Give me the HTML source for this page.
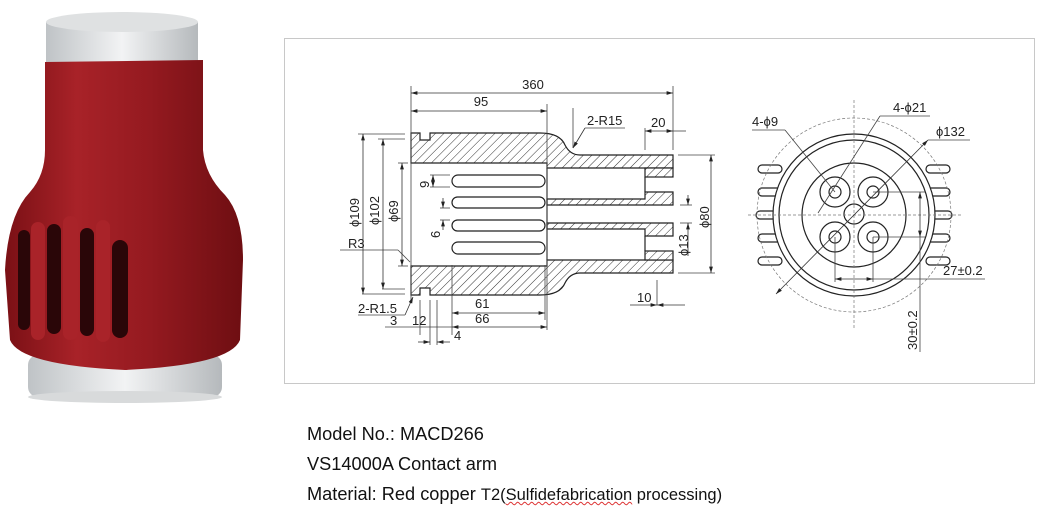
<!DOCTYPE html>
<html><head><meta charset="utf-8"><style>
html,body{margin:0;padding:0;background:#fff;}
body{width:1053px;height:519px;position:relative;overflow:hidden;font-family:"Liberation Sans",Arial,sans-serif;}
svg{position:absolute;left:0;top:0;}
.t{position:absolute;left:307px;font-size:18.2px;color:#111;white-space:nowrap;}
.s{font-size:16.5px;}
.w{text-decoration:underline wavy #d33;text-decoration-thickness:1px;}
</style></head><body>
<svg width="1053" height="519" viewBox="0 0 1053 519" font-family="Liberation Sans, Arial, sans-serif">
<defs>
<pattern id="h" width="6" height="6" patternUnits="userSpaceOnUse" patternTransform="rotate(45)">
<rect width="6" height="6" fill="#fff"/><line x1="0" y1="0" x2="0" y2="6" stroke="#333" stroke-width="1"/></pattern>
<linearGradient id="red" x1="0" x2="1"><stop offset="0" stop-color="#7a1015"/><stop offset=".3" stop-color="#a82228"/><stop offset=".6" stop-color="#951a20"/><stop offset="1" stop-color="#6e0e12"/></linearGradient>
<linearGradient id="al" x1="0" x2="1"><stop offset="0" stop-color="#bfc3c6"/><stop offset=".5" stop-color="#f2f3f4"/><stop offset="1" stop-color="#b5b9bc"/></linearGradient>
<marker id="a" viewBox="0 0 10 6" refX="10" refY="3" markerWidth="8" markerHeight="5" orient="auto-start-reverse"><path d="M0 0 L10 3 L0 6 Z" fill="#222"/></marker>
</defs>
<!-- photo -->
<rect x="28" y="355" width="194" height="42" rx="10" fill="url(#al)"/>
<ellipse cx="125" cy="397" rx="97" ry="6" fill="#d8dadb"/>
<rect x="46" y="22" width="152" height="45" fill="url(#al)"/>
<ellipse cx="122" cy="22" rx="76" ry="10" fill="#dfe1e2"/>
<path d="M45 62 L203 60 L203 150 Q205 175 225 195 Q243 215 243 260 L240 340 Q230 365 125 370 Q20 365 10 340 L5 270 Q8 215 30 192 Q45 175 45 150 Z" fill="url(#red)"/>
<g fill="#2a0608"><rect x="18" y="230" width="12" height="100" rx="6"/><rect x="47" y="224" width="14" height="110" rx="7"/><rect x="80" y="228" width="14" height="108" rx="7"/><rect x="112" y="240" width="16" height="98" rx="8"/></g>
<g fill="#a92329"><rect x="31" y="222" width="14" height="118" rx="7"/><rect x="63" y="216" width="15" height="124" rx="7"/><rect x="96" y="220" width="14" height="122" rx="7"/></g>
<!-- frame -->
<rect x="284.5" y="38.5" width="750" height="345" fill="none" stroke="#c8c8c8"/>
<!-- left drawing -->
<g stroke="#222" stroke-width="1.2">
<path d="M411 133 L420 133 L420 140 L430 140 L430 133 L540 133 Q560 133 565 145 Q570 155 580 155 L673 155 L673 168 L547 168 L547 163 L411 163 Z" fill="url(#h)"/>
<path d="M411 295 L420 295 L420 288 L430 288 L430 295 L540 295 Q560 295 565 283 Q570 273 580 273 L673 273 L673 260 L547 260 L547 266 L411 266 Z" fill="url(#h)"/>
<rect x="645" y="168" width="28" height="9" fill="url(#h)"/>
<rect x="645" y="251" width="28" height="9" fill="url(#h)"/>
<path d="M547 199 L645 199 L645 192 L673 192 L673 205 L547 205 Z" fill="url(#h)"/>
<path d="M547 229 L645 229 L645 236 L673 236 L673 223 L547 223 Z" fill="url(#h)"/>
<line x1="645" y1="177" x2="645" y2="192" fill="none"/><line x1="645" y1="236" x2="645" y2="251"/>
<line x1="547" y1="168" x2="547" y2="260"/>
<rect x="452" y="175" width="93" height="12" rx="6" fill="#fff"/>
<rect x="452" y="197" width="93" height="11" rx="5.5" fill="#fff"/>
<rect x="452" y="220" width="93" height="11" rx="5.5" fill="#fff"/>
<rect x="452" y="242" width="93" height="12" rx="6" fill="#fff"/>
</g>
<g stroke="#444" stroke-width=".8" fill="none">
<line x1="411" y1="86" x2="411" y2="300"/><line x1="673" y1="86" x2="673" y2="150"/><line x1="547" y1="104" x2="547" y2="330"/>
<line x1="358" y1="134" x2="405" y2="134"/><line x1="378" y1="139" x2="405" y2="139"/><line x1="398" y1="163" x2="408" y2="163"/><line x1="398" y1="266" x2="408" y2="266"/>
<line x1="362" y1="294" x2="405" y2="294"/><line x1="382" y1="289" x2="405" y2="289"/>
<line x1="340" y1="250" x2="398" y2="250"/><line x1="398" y1="250" x2="410" y2="262"/>
<line x1="678" y1="155" x2="715" y2="155"/><line x1="678" y1="273" x2="715" y2="273"/>
<line x1="680" y1="205" x2="692" y2="205"/><line x1="680" y1="223" x2="692" y2="223"/>
<line x1="645" y1="128" x2="645" y2="150"/><line x1="673" y1="131" x2="686" y2="131"/>
<line x1="573" y1="108" x2="573" y2="148"/><line x1="585" y1="128" x2="625" y2="128"/>
<line x1="657" y1="280" x2="657" y2="305"/>
<line x1="420" y1="300" x2="420" y2="335"/><line x1="430" y1="300" x2="430" y2="345"/><line x1="437" y1="300" x2="437" y2="345"/><line x1="452" y1="265" x2="452" y2="335"/><line x1="545" y1="265" x2="545" y2="320"/>
<line x1="385" y1="327" x2="452" y2="327"/>
<line x1="358" y1="315" x2="405" y2="315"/>
<line x1="430" y1="175" x2="450" y2="175"/><line x1="430" y1="187" x2="450" y2="187"/>
<line x1="440" y1="208" x2="450" y2="208"/><line x1="440" y1="220" x2="450" y2="220"/>
</g>
<g stroke="#333" stroke-width=".8" fill="none" marker-start="url(#a)" marker-end="url(#a)">
<line x1="411" y1="93" x2="673" y2="93"/><line x1="411" y1="111" x2="547" y2="111"/>
<line x1="363" y1="134" x2="363" y2="294"/><line x1="383" y1="139" x2="383" y2="289"/><line x1="402" y1="163" x2="402" y2="266"/>
<line x1="711" y1="155" x2="711" y2="273"/><line x1="645" y1="131" x2="673" y2="131"/>
<line x1="452" y1="313" x2="545" y2="313"/><line x1="452" y1="327" x2="547" y2="327"/>
<line x1="433" y1="175" x2="433" y2="187"/>
</g>
<g stroke="#333" stroke-width=".8" fill="none" marker-end="url(#a)">
<line x1="685" y1="305" x2="657" y2="305"/><line x1="630" y1="305" x2="657" y2="305"/>
<line x1="585" y1="128" x2="573" y2="148"/><line x1="405" y1="315" x2="413" y2="297"/>
<line x1="688" y1="256" x2="688" y2="223"/><line x1="688" y1="195" x2="688" y2="205"/>
<line x1="443" y1="198" x2="443" y2="208"/><line x1="443" y1="230" x2="443" y2="220"/>
<line x1="418" y1="342" x2="430" y2="342"/><line x1="450" y1="342" x2="437" y2="342"/>
</g>
<g font-size="13" fill="#222">
<text x="533" y="89" text-anchor="middle">360</text><text x="481" y="106" text-anchor="middle">95</text>
<text x="587" y="125">2-R15</text><text x="651" y="127">20</text>
<text x="637" y="302">10</text><text x="475" y="308">61</text><text x="475" y="323">66</text>
<text x="390" y="325">3</text><text x="412" y="325">12</text><text x="454" y="340">4</text>
<text x="358" y="313">2-R1.5</text><text x="348" y="248">R3</text>
<text transform="translate(359,227) rotate(-90)">ϕ109</text><text transform="translate(379,225) rotate(-90)">ϕ102</text><text transform="translate(398,222) rotate(-90)">ϕ69</text>
<text transform="translate(429,188) rotate(-90)">9</text><text transform="translate(440,238) rotate(-90)">6</text>
<text transform="translate(688,256) rotate(-90)">ϕ13</text><text transform="translate(709,228) rotate(-90)">ϕ80</text>
</g>
<!-- right view -->
<g stroke="#222" stroke-width="1.2" fill="#fff">
<g><rect x="758" y="165" width="24" height="8" rx="4"/><rect x="758" y="188" width="24" height="8" rx="4"/><rect x="756" y="211" width="24" height="8" rx="4"/><rect x="758" y="234" width="24" height="8" rx="4"/><rect x="758" y="257" width="24" height="8" rx="4"/>
<rect x="926" y="165" width="24" height="8" rx="4"/><rect x="926" y="188" width="24" height="8" rx="4"/><rect x="928" y="211" width="24" height="8" rx="4"/><rect x="926" y="234" width="24" height="8" rx="4"/><rect x="926" y="257" width="24" height="8" rx="4"/></g>
<circle cx="854" cy="215" r="81"/><circle cx="854" cy="215" r="75"/><circle cx="854" cy="215" r="52"/>
<circle cx="835" cy="192" r="15"/><circle cx="873" cy="192" r="15"/><circle cx="835" cy="237" r="15"/><circle cx="873" cy="237" r="15"/>
<circle cx="835" cy="192" r="6"/><circle cx="873" cy="192" r="6"/><circle cx="835" cy="237" r="6"/><circle cx="873" cy="237" r="6"/>
<circle cx="854" cy="214" r="10"/>
</g>
<g stroke="#777" stroke-width=".7" stroke-dasharray="3,2" fill="none">
<circle cx="854" cy="215" r="97"/><line x1="748" y1="215" x2="962" y2="215"/><line x1="854" y1="100" x2="854" y2="330"/>
</g>
<g stroke="#444" stroke-width=".8" fill="none">
<line x1="752" y1="130" x2="785" y2="130"/><line x1="785" y1="130" x2="835" y2="192"/>
<line x1="880" y1="116" x2="930" y2="116"/><line x1="880" y1="116" x2="818" y2="213"/>
<line x1="928" y1="140" x2="970" y2="140"/>
<line x1="835" y1="237" x2="835" y2="282"/><line x1="873" y1="237" x2="873" y2="282"/><line x1="873" y1="279" x2="985" y2="279"/>
<line x1="873" y1="192" x2="925" y2="192"/><line x1="873" y1="237" x2="925" y2="237"/><line x1="920" y1="237" x2="920" y2="352"/>
</g>
<g stroke="#333" stroke-width=".8" fill="none" marker-start="url(#a)" marker-end="url(#a)">
<line x1="928" y1="140" x2="776" y2="294"/><line x1="835" y1="279" x2="873" y2="279"/><line x1="920" y1="192" x2="920" y2="237"/>
</g>
<g font-size="13" fill="#222">
<text x="752" y="126">4-ϕ9</text><text x="893" y="112">4-ϕ21</text><text x="936" y="136">ϕ132</text><text x="943" y="275">27±0.2</text>
<text transform="translate(917,350) rotate(-90)">30±0.2</text>
</g>
</svg>
<div class="t" style="top:424px">Model No.: MACD266</div>
<div class="t" style="top:454px">VS14000A Contact arm</div>
<div class="t" style="top:484px">Material: Red copper <span class="s">T2(<span class="w">Sulfidefabrication</span> processing)</span></div>
</body></html>
